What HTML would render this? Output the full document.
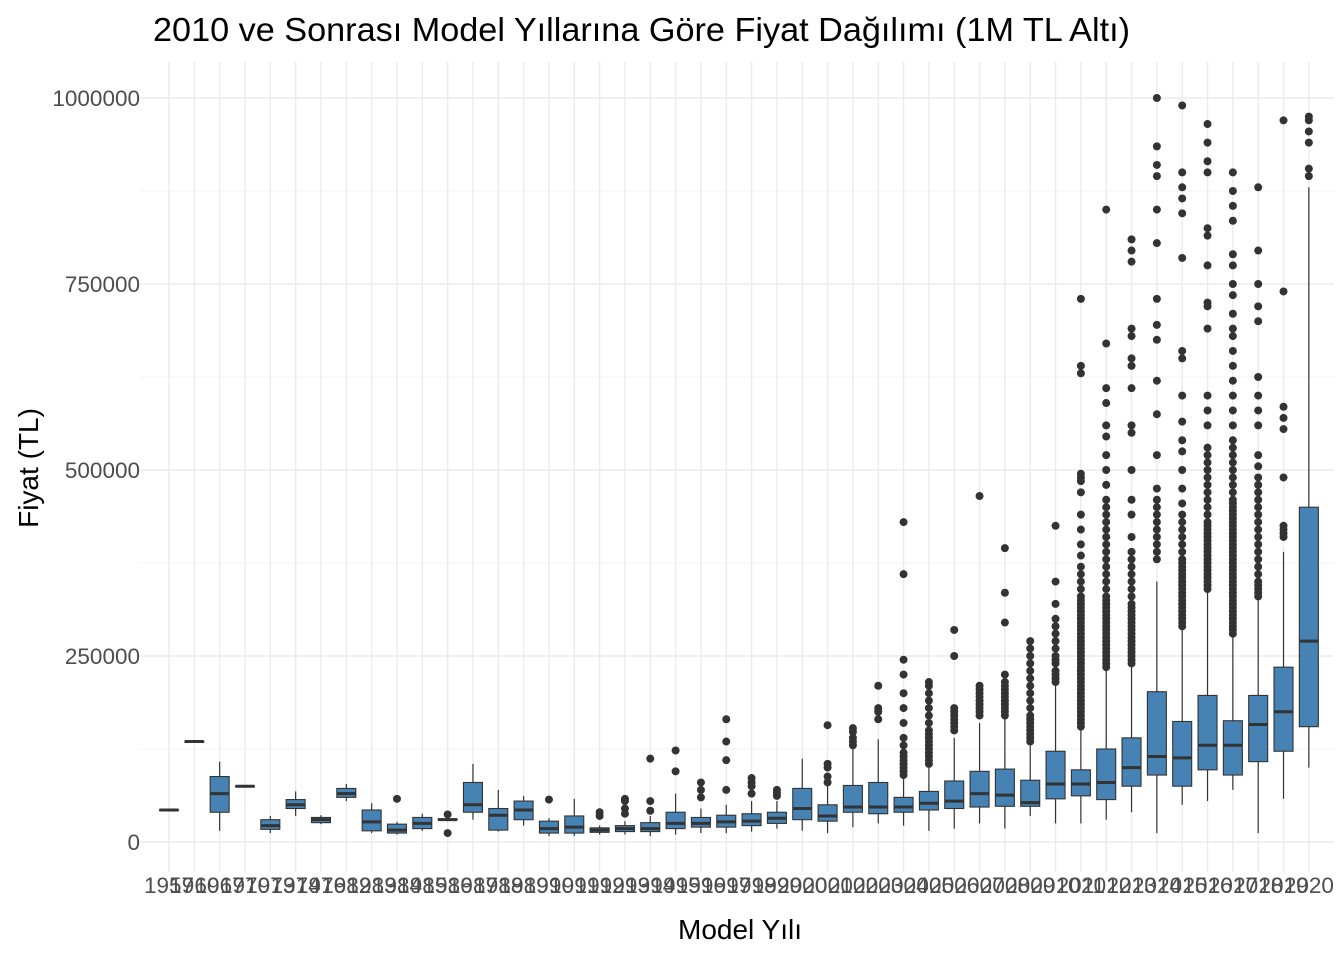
<!DOCTYPE html>
<html><head><meta charset="utf-8">
<style>
body{margin:0;background:#fff;}
svg text{font-family:"Liberation Sans",sans-serif;}
</style></head>
<body>
<svg id="chart" width="1344" height="960" xmlns="http://www.w3.org/2000/svg">
<rect width="1344" height="960" fill="#fff"/>
<text x="153" y="41" font-size="33.5" fill="#000" textLength="977" lengthAdjust="spacingAndGlyphs">2010 ve Sonrası Model Yıllarına Göre Fiyat Dağılımı (1M TL Altı)</text>
<g id="grid"></g><g id="marks"></g><g id="axes"></g>
<text x="740" y="939" font-size="28" text-anchor="middle" fill="#000">Model Yılı</text>
<text transform="translate(38,468) rotate(-90)" font-size="28" text-anchor="middle" fill="#000">Fiyat (TL)</text>
</svg>
<script>
const years=[1957,1960,1967,1970,1973,1974,1976,1982,1983,1984,1985,1986,1987,1988,1989,1990,1991,1992,1993,1994,1995,1996,1997,1998,1999,2000,2001,2002,2003,2004,2005,2006,2007,2008,2009,2010,2011,2012,2013,2014,2015,2016,2017,2018,2019,2020];
// values in thousands TL
const lo=[43,135,15,75,12,35,24,55,12,10,15,28,30,14,22,8,8,10,10,8,10,12,12,14,18,15,12,20,25,22,15,18,25,18,35,25,25,30,40,12,50,55,70,12,58,100];
const q1=[43,135,40,75,17,45,26,60,15,12,18,30,40,16,30,12,12,13,14,14,18,20,20,22,25,30,28,40,38,40,43,45,47,48,48,58,62,57,75,90,75,97,90,108,122,155];
const med=[43,135,65,75,22,50,30,65,27,16,25,30,50,36,43,18,20,16,18,18,25,25,27,28,32,45,35,47,47,47,52,55,65,63,53,78,78,80,100,115,113,130,130,158,175,270];
const q3=[43,135,88,75,30,57,33,72,43,24,33,31,80,45,55,28,35,19,22,26,40,33,36,38,40,72,50,76,80,60,68,82,95,98,83,122,97,125,140,202,162,197,163,197,235,450];
const hi=[43,135,108,75,35,68,36,78,52,27,38,33,105,70,62,32,58,22,28,35,65,45,50,55,55,112,75,125,138,85,100,140,160,165,130,210,150,230,235,350,290,340,275,325,390,880];
const outliers=[[],[],[],[],[],[],[],[],[],[58],[],[37,12],[],[],[],[57],[],[35,40],[38,45,55,58],[42,55,112],[95,123],[60,70,80],[70,110,135,165],[65,75,80,86],[62,66,70],[],[80,88,100,105,157],[130,135,140,148,153],[165,175,180,210],[90,95,100,105,110,115,120,130,140,160,180,200,225,245,360,430],[105,110,115,120,125,130,135,140,145,150,160,170,180,190,200,210,215],[150,155,160,165,170,175,180,250,285],[170,175,180,185,190,195,200,205,210,465],[170,175,180,185,190,195,200,205,210,215,225,295,335,395],[135,140,145,150,155,160,165,170,180,190,200,210,220,230,240,250,260,270],[215,220,225,230,240,245,250,260,270,280,290,300,320,350,425],[155,160,165,170,175,180,185,190,195,200,205,210,215,220,225,230,235,240,245,250,255,260,265,270,275,280,285,290,295,300,305,310,315,320,325,330,340,350,360,370,385,400,420,440,470,485,490,495,630,640,730],[235,240,245,250,255,260,265,270,275,280,285,290,295,300,305,310,315,320,325,330,340,350,360,370,380,390,400,410,420,430,440,450,460,480,500,520,545,560,590,610,670,850],[240,245,250,255,260,265,270,275,280,285,290,295,300,305,310,315,320,330,340,350,360,370,380,390,410,440,460,500,550,560,610,640,650,680,690,780,795,810],[380,390,400,410,420,430,440,450,460,475,520,575,620,675,695,730,805,850,895,910,935,1000],[290,295,300,305,310,315,320,325,330,335,340,345,350,355,360,365,370,375,380,390,400,410,420,430,440,455,475,500,525,540,565,600,650,660,785,845,865,880,900,990],[340,345,350,355,360,365,370,375,380,385,390,395,400,405,410,415,420,425,430,440,450,460,470,480,490,500,510,520,530,560,580,600,690,720,725,775,815,825,900,915,940,965],[280,285,290,295,300,305,310,315,320,325,330,335,340,345,350,355,360,365,370,375,380,385,390,395,400,405,410,415,420,425,430,435,440,445,450,455,460,470,480,490,500,510,520,530,540,560,580,600,620,640,660,680,690,710,735,750,775,790,835,855,875,900],[330,335,340,345,350,360,370,380,390,400,410,420,430,440,450,460,470,480,490,505,520,560,580,600,625,700,720,750,795,880],[410,415,420,425,490,555,570,585,740,970],[895,905,940,955,970,975]];
const ticks=[0,250000,500000,750000,1000000];
const X0=169,DX=25.33,Y0=842,PPU=186/250000;
const xs=i=>X0+i*DX;
const ys=v=>Y0-v*1000*PPU;
const ns="http://www.w3.org/2000/svg";
function mk(t,a,p){const e=document.createElementNS(ns,t);for(const k in a)e.setAttribute(k,a[k]);p.appendChild(e);return e;}
const grid=document.getElementById('grid'),marks=document.getElementById('marks'),axes=document.getElementById('axes');
for(let i=0;i<ticks.length-1;i++){const v=(ticks[i]+ticks[i+1])/2;const y=Y0-v*PPU;
 const l=mk('line',{x1:140,x2:1334,y1:y,y2:y,stroke:'#f3f3f3','stroke-width':1},grid);
 
 }
ticks.forEach(t=>{const y=Y0-t*PPU;
 const l=mk('line',{x1:140,x2:1334,y1:y,y2:y,stroke:'#ebebeb','stroke-width':1.4},grid);
 
 
 const tx=mk('text',{x:140,y:y+8,'text-anchor':'end','font-size':22.5,fill:'#4d4d4d'},axes);tx.textContent=t;
 
 });
years.forEach((yr,i)=>{const x=xs(i);
 const l=mk('line',{x1:x,x2:x,y1:62,y2:872,stroke:'#ebebeb','stroke-width':1.4},grid);
 
 
 const tx=mk('text',{x:x,y:893,'text-anchor':'middle','font-size':22.5,fill:'#4d4d4d'},axes);tx.textContent=yr;
 
 
 const g=mk('g',{},marks);
 
 
 mk('line',{x1:x,x2:x,y1:ys(hi[i]),y2:ys(q3[i]),stroke:'#333','stroke-width':1.2},g);
 mk('line',{x1:x,x2:x,y1:ys(q1[i]),y2:ys(lo[i]),stroke:'#333','stroke-width':1.2},g);
 const hw=9.5;
 mk('rect',{x:x-hw,y:ys(q3[i]),width:2*hw,height:Math.max(0.5,ys(q1[i])-ys(q3[i])),fill:'#4682B4',stroke:'#333','stroke-width':1.1},g);
 mk('line',{x1:x-hw,x2:x+hw,y1:ys(med[i]),y2:ys(med[i]),stroke:'#333','stroke-width':3},g);
 outliers[i].forEach(v=>{const c=mk('circle',{cx:x,cy:ys(v),r:4,fill:'#333'},g);
  
  });
});
</script>
</body></html>
